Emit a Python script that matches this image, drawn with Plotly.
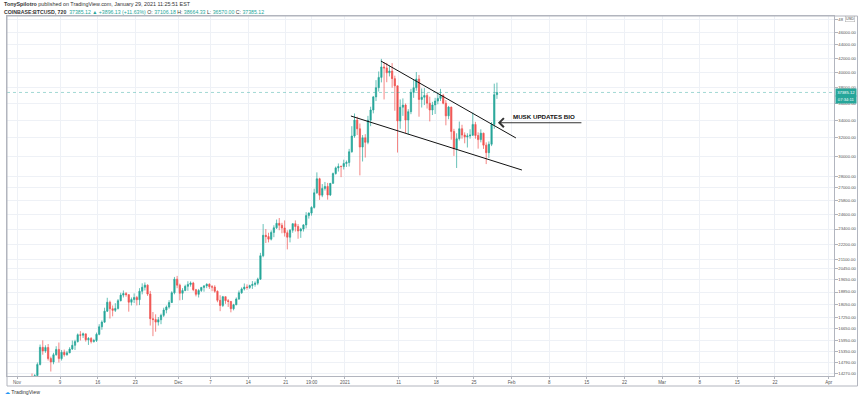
import math
import pandas as pd
import plotly.graph_objects as go

# ---------------- data (12h candles, COINBASE:BTCUSD) ----------------
first_open = 13800
closes = [
    13700, 13760, 13450, 13550, 13700, 14020, 13750, 14150, 14700, 15590,
    15400, 15580, 15000, 14830, 15200, 15480, 15000, 15330, 15200, 15300,
    15500, 15700, 15900, 16280, 16250, 16330, 16000, 16070, 15900, 15960,
    16300, 16730, 17000, 17650, 18200, 17800, 17700, 17820, 18300, 18650,
    18750, 18680, 18200, 18370, 18500, 18360, 18900, 19160, 19300, 18720,
    17200, 17150, 17000, 17140, 17400, 17720, 17900, 18180, 18800, 19700,
    19300, 18770, 18950, 19220, 19350, 19440, 19000, 18700, 18950, 19150,
    19250, 19360, 19200, 19170, 18900, 18320, 18000, 18550, 18300, 18250,
    17800, 18040, 18400, 18800, 19050, 19170, 19150, 19270, 19350, 19430,
    19700, 21350, 22900, 22800, 22600, 23130, 23500, 23860, 23700, 23480,
    23100, 22750, 23300, 23830, 23600, 23240, 23400, 23730, 24500, 24710,
    25200, 26490, 27800, 26280, 26900, 27080, 26300, 27370, 28300, 28860,
    29000, 28990, 29300, 29400, 30500, 32190, 34000, 33000, 31000, 32000,
    31500, 33990, 35200, 36820, 38000, 39370, 40800, 40670, 40000, 40240,
    39200, 38240, 33900, 35540, 35800, 34010, 35000, 37390, 38000, 39150,
    36500, 36770, 37000, 36030, 35200, 35820, 36300, 36630, 37000, 36020,
    34500, 35550, 32700, 30830, 31900, 33010, 32300, 32100, 32200, 32290,
    33500, 32250, 31800, 32510, 31200, 30410, 31300, 33489, 37106, 37385.12,
]
highs = [
    13900, 13820, 13830, 13650, 13780, 14070, 14250, 14220, 14800, 15740,
    15970, 15700, 15770, 15100, 15300, 15650, 15850, 15450, 15470, 15400,
    15600, 15960, 16000, 16350, 16480, 16400, 16330, 16150, 16150, 16050,
    16400, 16880, 17100, 17860, 18480, 18300, 18000, 18140, 18400, 18800,
    18950, 18850, 18700, 18500, 18760, 18600, 19100, 19420, 19480, 19350,
    18920, 17600, 17460, 17300, 17500, 17860, 18000, 18330, 18900, 19850,
    19920, 19400, 19100, 19330, 19560, 19550, 19520, 19050, 19050, 19180,
    19300, 19420, 19420, 19300, 19290, 18950, 18640, 18600, 18560, 18400,
    18280, 18100, 18500, 18950, 19150, 19410, 19350, 19330, 19570, 19550,
    19800, 21560, 23800, 23400, 23100, 23290, 23700, 24170, 24300, 23900,
    24100, 23300, 23400, 23850, 24100, 23800, 23500, 23790, 24790, 24780,
    25300, 26870, 28420, 27900, 27300, 27500, 27410, 27400, 28400, 28990,
    29300, 29100, 29680, 29600, 30800, 33300, 34780, 34400, 33600, 32300,
    32400, 34500, 35600, 36940, 39000, 40180, 41950, 41500, 41380, 41000,
    41350, 39600, 38260, 36500, 36630, 36000, 35300, 37850, 39100, 40100,
    39700, 37900, 37950, 37300, 36850, 36200, 36700, 37420, 37850, 37200,
    36420, 35700, 35600, 33000, 32500, 33830, 33460, 32600, 32500, 32950,
    34880, 33800, 32600, 32940, 32560, 31500, 31600, 33780, 38530, 38664.33,
]
lows = [
    13620, 13650, 13300, 13200, 13290, 13600, 13530, 13700, 14100, 14650,
    15200, 15300, 14900, 14350, 14710, 15150, 14800, 14900, 15100, 15150,
    15280, 15450, 15450, 15850, 15960, 16100, 15900, 15720, 15800, 15850,
    15880, 16250, 16560, 16950, 17600, 17210, 17340, 17600, 17750, 18250,
    18500, 18550, 17620, 18000, 18150, 18000, 18020, 18700, 18950, 18600,
    16800, 16200, 16450, 16800, 16880, 17300, 17520, 17800, 18160, 18700,
    19100, 18320, 18350, 18900, 18930, 19200, 18900, 18570, 18500, 18850,
    18870, 19100, 19050, 18900, 18800, 18200, 17650, 17900, 18100, 17910,
    17580, 17700, 18020, 18350, 18730, 18950, 19000, 19050, 19050, 19200,
    19300, 19650, 21240, 22300, 22350, 22500, 22750, 23400, 23300, 23060,
    22800, 21820, 22350, 23100, 23200, 22630, 22700, 23200, 23450, 24250,
    24500, 25100, 26400, 25860, 26100, 26700, 25880, 26200, 27330, 28200,
    28500, 27960, 28700, 28950, 29000, 30400, 32000, 32300, 28130, 29500,
    29900, 31300, 33300, 34800, 36300, 37500, 38700, 36500, 38720, 39500,
    38000, 35110, 30420, 33000, 34500, 32530, 32380, 34700, 36700, 37600,
    34400, 35500, 35800, 35380, 33850, 34600, 34720, 35900, 36300, 35900,
    33400, 34100, 31800, 30070, 28850, 31700, 31900, 31400, 30950, 31900,
    32200, 31900, 30830, 31500, 30800, 29240, 29850, 31100, 33000, 36570.00,
]
opens = [first_open] + closes[:-1]
candle_times = pd.date_range("2020-10-31 19:00", periods=len(closes), freq="12h")

price_ticks = [48000, 46000, 44000, 42000, 40000, 38000, 36000, 34000, 32000,
               30000, 28000, 27000, 25800, 24600, 23400, 22200, 21100, 20450,
               19650, 18850, 18050, 17250, 16650, 15950, 15350, 14790, 14270]
price_tick_labels = ["48"] + [f"{v:.2f}" for v in price_ticks[1:]]

date_ticks = ["2020-11-01", "2020-11-09", "2020-11-16", "2020-11-23", "2020-12-01",
              "2020-12-07", "2020-12-14", "2020-12-21", "2020-12-25 19:00", "2021-01-01",
              "2021-01-11", "2021-01-18", "2021-01-25", "2021-02-01", "2021-02-08",
              "2021-02-15", "2021-02-22", "2021-03-01", "2021-03-08", "2021-03-15",
              "2021-03-22", "2021-04-01"]
date_labels = ["Nov", "9", "16", "23", "Dec", "7", "14", "21", "19:00", "2021",
               "11", "18", "25", "Feb", "8", "15", "22", "Mar", "8", "15", "22", "Apr"]

# hand-drawn wedge lines
upper_line_x = ["2021-01-07 17:00", "2021-02-01 19:40"]
upper_line_y = [41640, 31980]
lower_line_x = ["2021-01-02 03:00", "2021-02-02 22:30"]
lower_line_y = [34480, 28650]

arrow_x = "2021-01-29 11:20"
arrow_y = 33700
last_price = 37385.12
x_range = ["2020-10-30 03:20", "2021-04-02 00:00"]
y_range = [14130, 48600]

# ---------------- layout geometry ----------------
W, H = 860, 399
ML, MR, MT, MB = 7, 26, 16, 23
PW, PH = W - ML - MR, H - MT - MB


def px(x):
    return (x - ML) / PW


def py(y):
    return (H - MB - y) / PH


TEAL = "#26a69a"
RED = "#ef5350"
GRID = "#eef1f6"
AXIS = "#b2b5be"
FONT = "Liberation Sans, Arial, sans-serif"

fig = go.Figure()

fig.add_trace(go.Candlestick(
    x=candle_times, open=opens, high=highs, low=lows, close=closes,
    increasing=dict(line=dict(color=TEAL, width=0.7), fillcolor=TEAL),
    decreasing=dict(line=dict(color=RED, width=0.7), fillcolor=RED),
    whiskerwidth=0, showlegend=False, hoverinfo="skip",
))

# current price dotted line
fig.add_trace(go.Scatter(
    x=x_range, y=[last_price, last_price], mode="lines",
    line=dict(color="rgba(38,166,154,0.55)", width=0.8, dash="dot"),
    showlegend=False, hoverinfo="skip",
))

# wedge trendlines
fig.add_trace(go.Scatter(x=upper_line_x, y=upper_line_y, mode="lines",
                         line=dict(color="#111", width=1), showlegend=False, hoverinfo="skip"))
fig.add_trace(go.Scatter(x=lower_line_x, y=lower_line_y, mode="lines",
                         line=dict(color="#111", width=1), showlegend=False, hoverinfo="skip"))

annotations = []
# arrow
annotations.append(dict(
    x=arrow_x, y=math.log10(arrow_y), xref="x", yref="y", text="",
    showarrow=True, ax=85, ay=0, axref="pixel", ayref="pixel",
    arrowhead=4, arrowsize=1.6, arrowwidth=1.1, arrowcolor="#333", standoff=0,
))
annotations.append(dict(
    x=px(544), y=py(116), xref="paper", yref="paper", text="<b>MUSK UPDATES BIO</b>",
    showarrow=False, xanchor="center", yanchor="middle",
    font=dict(family=FONT, size=6.2, color="#111"),
))

# header
annotations.append(dict(
    x=px(2), y=py(4), xref="paper", yref="paper", xanchor="left", yanchor="middle",
    showarrow=False,
    text="<b>TonySpilotro</b> published on TradingView.com, January 29, 2021 11:25:51 EST",
    font=dict(family=FONT, size=5.4, color="#333"),
))
hdr = ("<b>COINBASE:BTCUSD, 720</b>  <span style='color:#26a69a'>37385.12</span> "
       "<span style='color:#26a69a'>▲</span> <span style='color:#26a69a'>+3896.13 (+11.63%)</span> "
       "O: <span style='color:#26a69a'>37106.18</span> H: <span style='color:#26a69a'>38664.33</span> "
       "L: <span style='color:#26a69a'>36570.00</span> C: <span style='color:#26a69a'>37385.12</span>")
annotations.append(dict(
    x=px(2), y=py(12), xref="paper", yref="paper", xanchor="left", yanchor="middle",
    showarrow=False, text=hdr, font=dict(family=FONT, size=5.2, color="#333"),
))

# price labels on axis
annotations.append(dict(
    x=px(835), y=math.log10(last_price), xref="paper", yref="y", xanchor="left", yanchor="middle",
    showarrow=False, text="37385.12", bgcolor=TEAL, borderpad=1.2,
    font=dict(family=FONT, size=4.2, color="white"), width=18,
))
annotations.append(dict(
    x=px(835), y=math.log10(last_price), xref="paper", yref="y", xanchor="left", yanchor="middle",
    yshift=-7.5, showarrow=False, text="07:34:11", bgcolor=TEAL, borderpad=1.2,
    font=dict(family=FONT, size=4.2, color="white"), width=18,
))
annotations.append(dict(
    x=px(849.5), y=py(19.5), xref="paper", yref="paper", xanchor="center", yanchor="middle",
    showarrow=False, text="USD", bgcolor="white", bordercolor="#aaa", borderwidth=0.5,
    borderpad=0.6, font=dict(family=FONT, size=3.8, color="#444"),
))

# watermark
annotations.append(dict(
    x=px(3), y=py(392), xref="paper", yref="paper", xanchor="left", yanchor="middle",
    showarrow=False,
    text="<span style='color:#2196f3'>☁</span> TradingView",
    font=dict(family=FONT, size=5.2, color="#333"),
))

shapes = [
    dict(type="rect", xref="paper", yref="paper", x0=px(7), x1=px(857.5), y0=py(386), y1=py(16),
         line=dict(color=AXIS, width=1), layer="above"),
]

fig.update_layout(
    template="none",
    width=W, height=H,
    margin=dict(l=ML, r=MR, t=MT, b=MB, pad=0),
    paper_bgcolor="white", plot_bgcolor="white",
    font=dict(family=FONT, color="#555"),
    showlegend=False,
    annotations=annotations,
    shapes=shapes,
    xaxis=dict(
        type="date", range=x_range, rangeslider=dict(visible=False),
        tickmode="array", tickvals=date_ticks, ticktext=date_labels,
        tickfont=dict(family=FONT, size=4.5, color="#555"),
        showgrid=True, gridcolor=GRID, gridwidth=1,
        showline=True, linecolor=AXIS, linewidth=1, mirror=True,
        ticks="outside", ticklen=1.5, tickcolor=AXIS,
        zeroline=False, automargin=False, fixedrange=True,
    ),
    yaxis=dict(
        type="log", side="right",
        range=[math.log10(y_range[0]), math.log10(y_range[1])],
        tickmode="array", tickvals=price_ticks, ticktext=price_tick_labels,
        tickfont=dict(family=FONT, size=4.2, color="#555"),
        showgrid=True, gridcolor=GRID, gridwidth=1,
        showline=True, linecolor=AXIS, linewidth=1, mirror=True,
        ticks="outside", ticklen=2.5, tickcolor=AXIS,
        zeroline=False, automargin=False, fixedrange=True,
    ),
)

fig.write_html(
    "out.html",
    config={"displayModeBar": False, "staticPlot": True},
    post_script="document.body.style.margin='0px';document.body.style.overflow='hidden';",
)
